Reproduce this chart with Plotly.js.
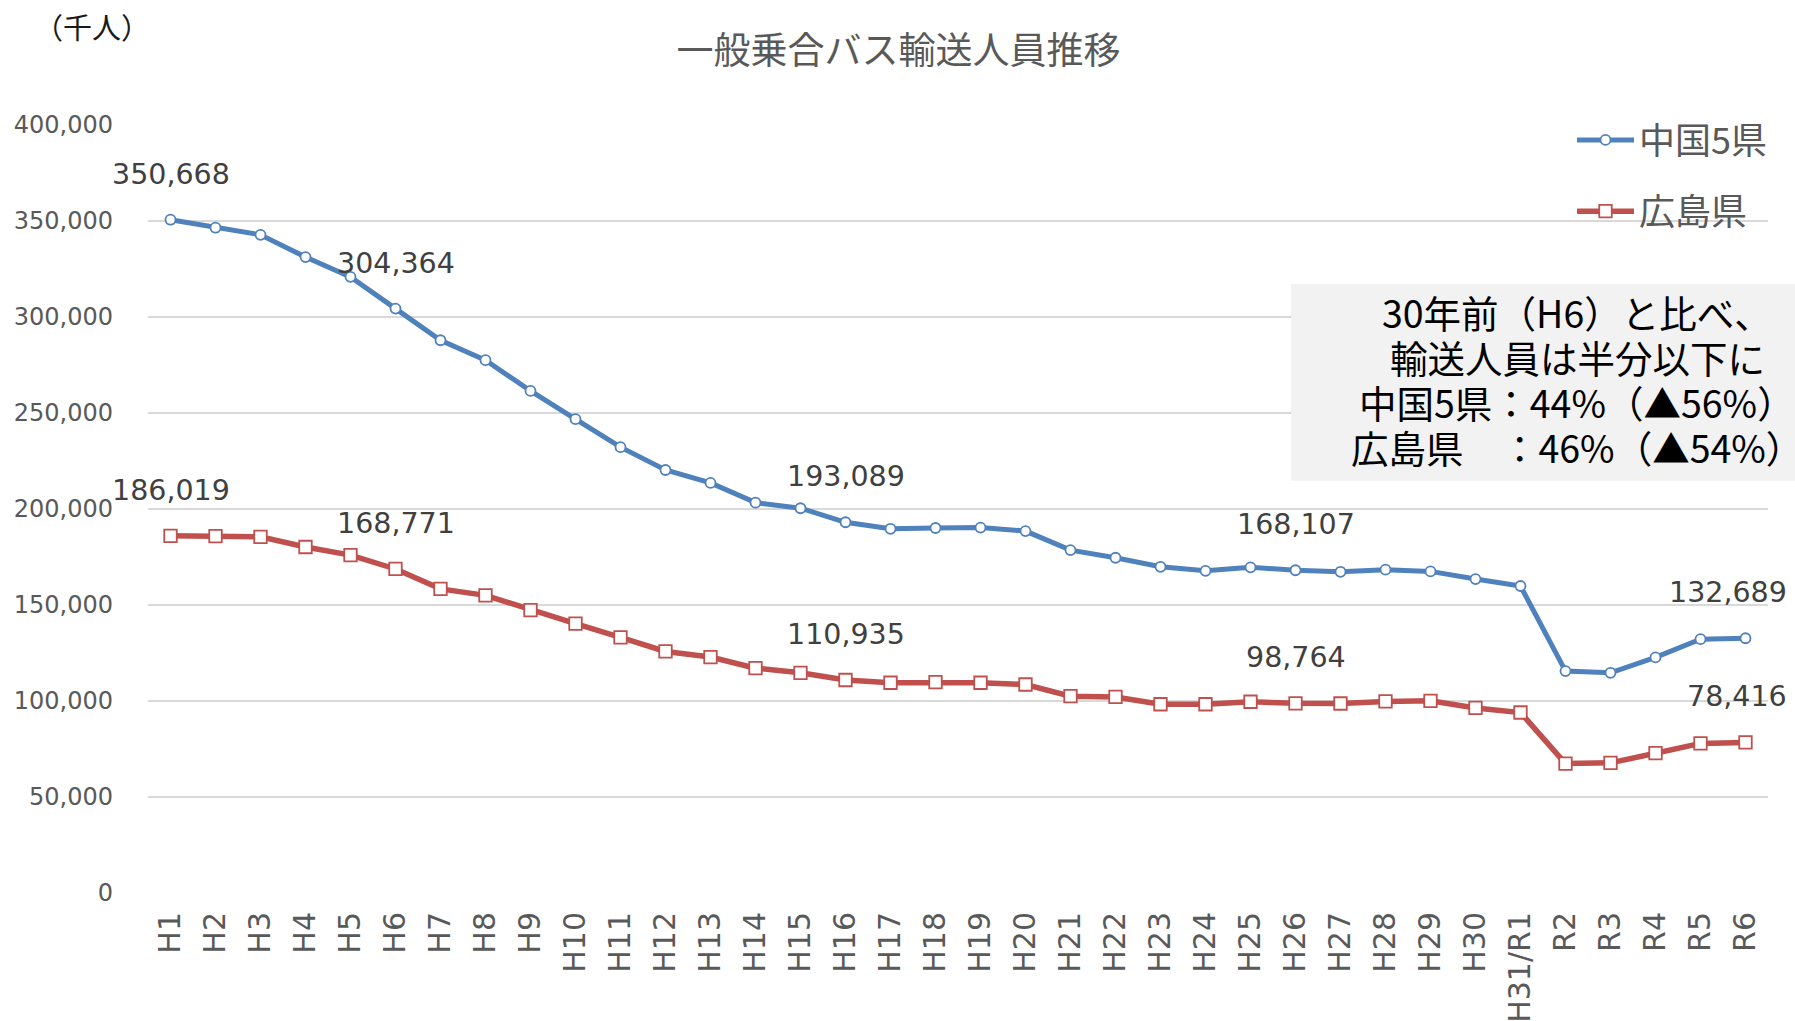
<!DOCTYPE html>
<html>
<head>
<meta charset="utf-8">
<script src="https://cdn.plot.ly/plotly-3.0.1.min.js"></script>
<style>
  html, body { margin: 0; padding: 0; background: #fff; }
  #chart { width: 1795px; height: 1021px; }
</style>
</head>
<body>
<div id="chart"></div>
<script>
// ---- data ----
const categories = ['H1','H2','H3','H4','H5','H6','H7','H8','H9','H10',
  'H11','H12','H13','H14','H15','H16','H17','H18','H19','H20',
  'H21','H22','H23','H24','H25','H26','H27','H28','H29','H30',
  'H31/R1','R2','R3','R4','R5','R6'];

const chugoku5 = [350668, 346500, 342800, 331200, 320900, 304364, 287900, 277500, 261500, 246800,
  232200, 220300, 213600, 203300, 200400, 193089, 189700, 190100, 190300, 188500,
  178600, 174600, 169900, 167800, 169600, 168107, 167300, 168400, 167500, 163500,
  159900, 115600, 114700, 122700, 132200, 132689];

const hiroshima = [186019, 185900, 185500, 180200, 176000, 168771, 158400, 155000, 147300, 140300,
  133100, 125800, 122900, 117100, 114700, 110935, 109500, 109800, 109500, 108600,
  102500, 102100, 98300, 98300, 99600, 98764, 98700, 99800, 100100, 96400,
  94000, 67400, 67800, 72800, 77900, 78416];

const labeledIdx = [0, 5, 15, 25, 35];

const seriesNames = ['中国5県', '広島県'];
const chartTitle = '一般乗合バス輸送人員推移';
const unitLabel = '（千人）';
const noteLines = ['30年前（H6）と比べ、', '輸送人員は半分以下に', '中国5県：44%（▲56%）', '広島県　：46%（▲54%）'];

// ---- layout geometry ----
const W = 1795, H = 1021;
const L = 148, R = 27, T = 125, B = 128;
const PW = W - L - R, PH = H - T - B;
const px2x = p => (p - L) / PW;
const py2y = p => (T + PH - p) / PH;

const BLUE = '#4F81BD', RED = '#C0504D';
const NUMFONT = 'DejaVu Sans, Verdana, sans-serif';
const JPFONT = 'Noto Sans CJK JP, sans-serif';

const fmt = v => v.toLocaleString('en-US');

const traces = [
  {
    x: categories, y: chugoku5, name: seriesNames[0], type: 'scatter', mode: 'lines+markers',
    line: {color: BLUE, width: 5},
    marker: {symbol: 'circle', size: 10, color: '#ffffff', line: {color: BLUE, width: 1.8}},
    legendgroup: 'a', cliponaxis: false
  },
  {
    x: categories, y: hiroshima, name: seriesNames[1], type: 'scatter', mode: 'lines+markers',
    line: {color: RED, width: 5.5},
    marker: {symbol: 'square', size: 12.5, color: '#ffffff', line: {color: RED, width: 1.8}},
    legendgroup: 'b', cliponaxis: false
  }
];

const annotations = [];
[chugoku5, hiroshima].forEach(arr => {
  labeledIdx.forEach(i => {
    const last = i === categories.length - 1;
    annotations.push({
      xref: 'x', yref: 'y', x: categories[i], y: arr[i],
      text: fmt(arr[i]), showarrow: false,
      xanchor: last ? 'right' : 'center', yanchor: 'middle',
      xshift: last ? 43.5 : 0, yshift: 45.5,
      font: {family: NUMFONT, size: 28.5, color: '#404040'}
    });
  });
});

annotations.push({
  xref: 'paper', yref: 'paper', x: px2x(92), y: py2y(26),
  text: unitLabel, showarrow: false, xanchor: 'center', yanchor: 'middle',
  font: {family: JPFONT, size: 29, color: '#1a1a1a'}
});

const noteY = [311.7, 356, 401.7, 446.7];
noteLines.forEach((t, k) => {
  annotations.push({
    xref: 'paper', yref: 'paper', x: px2x(1577), y: py2y(noteY[k]),
    text: t, showarrow: false, xanchor: 'center', yanchor: 'middle',
    font: {family: JPFONT, size: 37.5, color: '#000000'}
  });
});

const layout = {
  width: W, height: H,
  margin: {l: L, r: R, t: T, b: B, pad: 0},
  paper_bgcolor: '#ffffff', plot_bgcolor: '#ffffff',
  font: {family: NUMFONT, color: '#595959'},
  title: {
    text: chartTitle, xref: 'container', yref: 'container',
    x: 898.5 / W, y: 1 - 50.8 / H, xanchor: 'center', yanchor: 'middle',
    font: {family: JPFONT, size: 37, color: '#595959'}
  },
  xaxis: {
    type: 'category', tickangle: -90, showgrid: false, zeroline: false, showline: false,
    ticks: '', ticklabelstandoff: 12,
    tickfont: {family: NUMFONT, size: 30, color: '#595959'},
    range: [-0.5, categories.length - 0.5], fixedrange: true
  },
  yaxis: {
    range: [0, 400000], dtick: 50000, tickformat: ',d',
    showgrid: true, gridcolor: '#D9D9D9', gridwidth: 1.5,
    zeroline: false, showline: false, ticks: '', ticklabelstandoff: 34,
    tickfont: {family: NUMFONT, size: 24, color: '#595959'}, fixedrange: true
  },
  showlegend: true,
  legend: {
    x: px2x(1572), y: py2y(110), xanchor: 'left', yanchor: 'top',
    bgcolor: 'rgba(0,0,0,0)', borderwidth: 0,
    font: {family: JPFONT, size: 36, color: '#595959'},
    traceorder: 'grouped', tracegroupgap: 21.5, itemwidth: 57
  },
  shapes: [{
    type: 'rect', xref: 'paper', yref: 'paper', layer: 'above',
    x0: px2x(1291), x1: px2x(1800), y0: py2y(480.7), y1: py2y(284),
    fillcolor: '#F2F2F2', line: {width: 0}
  }],
  annotations: annotations
};

Plotly.newPlot('chart', traces, layout, {displayModeBar: false, staticPlot: true});
</script>
</body>
</html>
